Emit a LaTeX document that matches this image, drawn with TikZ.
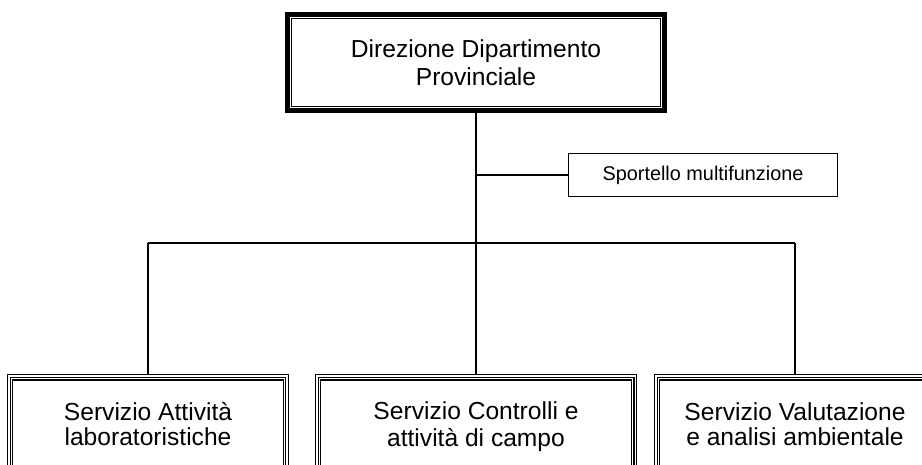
\documentclass[tikz,border=0pt]{standalone}
\usepackage{fontspec}
\setmainfont{Liberation Sans}
\usepackage{tikz}
\usetikzlibrary{positioning}
\tikzset{
  headbox/.style={rectangle, draw, line width=2.83pt, minimum width=7.54cm, minimum height=1.92cm, align=center, font=\fontsize{14}{16}\selectfont},
  unitbox/.style={rectangle, draw, line width=0.75pt, minimum height=2.12cm, align=center, font=\fontsize{14}{14.5}\selectfont},
  staffbox/.style={rectangle, draw, line width=0.6pt, minimum width=5.38cm, minimum height=0.86cm, font=\fontsize{11.3}{13}\selectfont},
  inner/.style={line width=0.7pt},
  wire/.style={line width=1.13pt},
}
\begin{document}
\begin{tikzpicture}[x=0.02cm, y=-0.02cm]
    \useasboundingbox (0,0) rectangle (922,464);
    \clip (0,0) rectangle (922,464);
    \node[headbox] (dir) at (476,62.5) {Direzione Dipartimento\\Provinciale};
    \draw[inner, line width=0.85pt] ([shift={(6.5,6.5)}]dir.north west) rectangle ([shift={(-6.5,-6.5)}]dir.south east);
    \node[staffbox] (sport) at (703,175) {Sportello multifunzione};
    \node[unitbox, minimum width=5.62cm] (lab) at (148,427.7) {\strut Servizio Attività\\laboratoristiche\strut};
    \node[unitbox, minimum width=6.43cm] (ctrl) at (476,427.7) {\strut Servizio Controlli e\\attività di campo\strut};
    \node[unitbox, minimum width=5.62cm] (val) at (795,427.7) {\strut Servizio Valutazione\\e analisi ambientale\strut};
    \foreach \n in {lab,ctrl,val}
      \foreach \d in {3.5,6}
        \draw[inner] ([shift={(\d,\d)}]\n.north west) rectangle ([shift={(-\d,-\d)}]\n.south east);
    \coordinate (bus) at (476,243);
    \draw[wire] (dir.south) -- (bus);
    \draw[wire] (sport.west) -- (sport.west -| dir.south);
    \draw[wire] (lab.north |- bus) -- (val.north |- bus);
    \draw[wire] (lab.north |- bus) -- (lab.north);
    \draw[wire] (bus) -- (ctrl.north);
    \draw[wire] (val.north |- bus) -- (val.north);
  \end{tikzpicture}
\end{document}
